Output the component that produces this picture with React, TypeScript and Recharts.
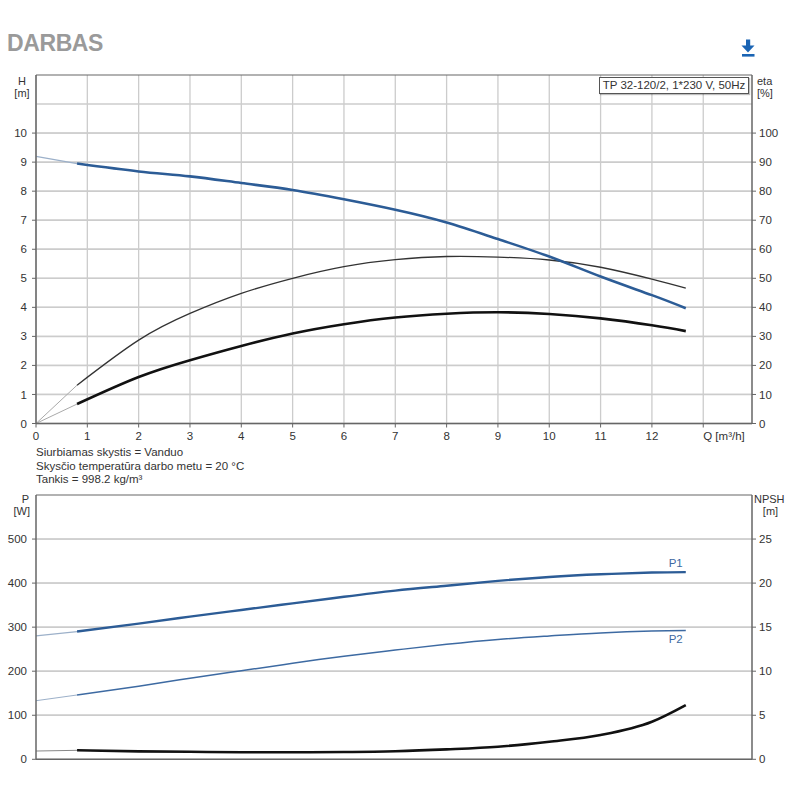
import React from 'react';
import { LineChart, Line, XAxis, YAxis, CartesianGrid, ReferenceLine, LabelList } from 'recharts';

// Flow values (m³/h) for the main operating range
const flowQ = [0.8, 2, 3, 4, 5, 6, 7, 8, 9, 10, 11, 12, 12.66];
// Head H [m]
const headH = [8.95, 8.68, 8.51, 8.28, 8.04, 7.72, 7.36, 6.92, 6.35, 5.75, 5.06, 4.42, 3.97];
// Efficiency curves [%]
const etaUpper = [13.2, 28.7, 37.9, 44.8, 50.0, 54.0, 56.4, 57.5, 57.3, 56.3, 53.8, 49.7, 46.6];
const etaLower = [6.7, 16.0, 21.8, 26.7, 31.0, 34.2, 36.5, 37.8, 38.3, 37.7, 36.2, 33.8, 31.8];
// Power P1 / P2 [W]
const powerP1 = [290, 308, 324, 339, 354, 369, 383, 394, 405, 414, 420, 424, 425];
const powerP2 = [146, 166, 184, 201, 218, 234, 248, 261, 272, 280, 287, 291.5, 292.5];
// NPSH [m]
const npsh = [1.02, 0.9, 0.85, 0.8, 0.8, 0.83, 0.92, 1.13, 1.43, 2.0, 2.76, 4.27, 6.16];

// Extensions from Q = 0 to the start of the operating range
const extQ = [0, 0.8];
const headExt = [9.2, 8.95];
const etaUpperExt = [0, 13.2];
const etaLowerExt = [0, 6.7];
const p1Ext = [280, 290];
const p2Ext = [133, 146];
const npshExt = [0.94, 1.02];

// Tick labels / grid values
const qTicks = [0, 1, 2, 3, 4, 5, 6, 7, 8, 9, 10, 11, 12, 13];
const hTicks = [0, 1, 2, 3, 4, 5, 6, 7, 8, 9, 10];
const hGrid = [1, 2, 3, 4, 5, 6, 7, 8, 9, 10, 11];
const etaTicks = [0, 10, 20, 30, 40, 50, 60, 70, 80, 90, 100];
const pTicks = [0, 100, 200, 300, 400, 500];
const pGrid = [100, 200, 300, 400, 500];
const npshTicks = [0, 5, 10, 15, 20, 25];

const toPts = (xs: number[], ys: number[]) => xs.map((q, i) => ({ q, v: ys[i] }));

const FONT = '"Liberation Sans", Arial, sans-serif';
const AXIS = '#666';
const GRID = '#d6d6d6';
const HGRID = '#cccccc';
const TXT = '#333';
const BLUE = '#2c5c96';
const BLUE2 = '#3d6aa2';

const XTick = (props: any) => {
  const { x, y, payload } = props;
  if (payload.value === 13) {
    return (
      <text x={x} y={y} dy="0.71em" textAnchor="start" fontSize={11.5} fontFamily={FONT} fill={TXT}>
        Q [m³/h]
      </text>
    );
  }
  return (
    <text x={x} y={y} dy="0.71em" textAnchor="middle" fontSize={11.5} fontFamily={FONT} fill={TXT}>
      {payload.value}
    </text>
  );
};

const tickStyle = { fill: TXT, fontSize: 11.5, fontFamily: FONT };

const endLabel = (text: string, lastIndex: number, above: boolean) => (p: any) => {
  if (p.index !== lastIndex) return null;
  return (
    <text x={p.x - 3} y={above ? p.y - 5 : p.y + 13} textAnchor="end" fontSize={11.5} fontFamily={FONT} fill={BLUE2}>
      {text}
    </text>
  );
};

const abs = (left: number, top: number, extra: any = {}): React.CSSProperties => ({
  position: 'absolute',
  left,
  top,
  fontFamily: FONT,
  fontSize: 11.5,
  color: TXT,
  lineHeight: '12px',
  whiteSpace: 'nowrap',
  ...extra,
});

export default function App() {
  const last = flowQ.length - 1;
  return (
    <div style={{ position: 'absolute', left: 0, top: 0, width: 800, height: 800, background: '#fff', overflow: 'hidden' }}>
      <div style={abs(7, 30, { fontSize: 23, fontWeight: 'bold', color: '#9a9a9a', lineHeight: '26px', letterSpacing: '-0.4px' })}>
        DARBAS
      </div>
      <svg style={{ position: 'absolute', left: 740, top: 38 }} width={16} height={20}>
        <rect x={6} y={1.5} width={4.2} height={7} fill="#1a64b4" />
        <polygon points="1.5,7.5 14.5,7.5 8,14.5" fill="#1a64b4" />
        <rect x={2} y={16} width={12.5} height={2.6} fill="#1a64b4" />
      </svg>

      {/* Top chart: H (default y axis) and eta */}
      <div style={{ position: 'absolute', left: 0, top: 0 }}>
        <LineChart width={800} height={460} margin={{ top: 75, right: 0, left: 0, bottom: 6.5 }}>
          <CartesianGrid syncWithTicks stroke={HGRID} strokeWidth={1.3} />
          <XAxis type="number" dataKey="q" domain={[0, 13.95]} ticks={qTicks} interval={0} height={30}
            axisLine={{ stroke: AXIS, strokeWidth: 1.5 }} tickLine={{ stroke: AXIS }} tickSize={4} tickMargin={4} tick={<XTick />} />
          <YAxis type="number" domain={[0, 12]} ticks={hTicks} interval={0} width={36}
            axisLine={{ stroke: AXIS, strokeWidth: 1.5 }} tickLine={{ stroke: AXIS }} tickSize={4} tickMargin={5} tick={tickStyle} />
          <YAxis yAxisId="eta" orientation="right" type="number" domain={[0, 120]} ticks={etaTicks} interval={0} width={48}
            axisLine={{ stroke: AXIS, strokeWidth: 1.5 }} tickLine={{ stroke: AXIS }} tickSize={4} tickMargin={3} tick={{ ...tickStyle, textAnchor: 'start' }} />
          {hGrid.map((v) => (
            <ReferenceLine key={'hg' + v} y={v} stroke={HGRID} strokeWidth={1.5} />
          ))}
          <ReferenceLine y={12} stroke={AXIS} strokeWidth={1.2} />
          <Line data={toPts(extQ, headExt)} dataKey="v" type="linear" stroke="#9cb0c9" strokeWidth={1.2} dot={false} isAnimationActive={false} />
          <Line yAxisId="eta" data={toPts(extQ, etaUpperExt)} dataKey="v" type="linear" stroke="#aaa" strokeWidth={1} dot={false} isAnimationActive={false} />
          <Line yAxisId="eta" data={toPts(extQ, etaLowerExt)} dataKey="v" type="linear" stroke="#aaa" strokeWidth={1} dot={false} isAnimationActive={false} />
          <Line yAxisId="eta" data={toPts(flowQ, etaUpper)} dataKey="v" type="natural" stroke="#333" strokeWidth={1.3} dot={false} isAnimationActive={false} />
          <Line yAxisId="eta" data={toPts(flowQ, etaLower)} dataKey="v" type="natural" stroke="#111" strokeWidth={2.6} dot={false} isAnimationActive={false} />
          <Line data={toPts(flowQ, headH)} dataKey="v" type="natural" stroke={BLUE} strokeWidth={2.6} dot={false} isAnimationActive={false} />
        </LineChart>
      </div>

      {/* Bottom chart: P (default y axis) and NPSH */}
      <div style={{ position: 'absolute', left: 0, top: 460 }}>
        <LineChart width={800} height={340} margin={{ top: 35, right: 0, left: 0, bottom: 30.7 }}>
          <CartesianGrid syncWithTicks stroke={HGRID} strokeWidth={1.3} />
          <XAxis type="number" dataKey="q" domain={[0, 13.95]} ticks={qTicks} interval={0} height={10}
            axisLine={{ stroke: AXIS, strokeWidth: 1.5 }} tickLine={false} tick={false} />
          <YAxis type="number" domain={[0, 600]} ticks={pTicks} interval={0} width={36}
            axisLine={{ stroke: AXIS, strokeWidth: 1.5 }} tickLine={{ stroke: AXIS }} tickSize={4} tickMargin={5} tick={tickStyle} />
          <YAxis yAxisId="n" orientation="right" type="number" domain={[0, 30]} ticks={npshTicks} interval={0} width={48}
            axisLine={{ stroke: AXIS, strokeWidth: 1.5 }} tickLine={{ stroke: AXIS }} tickSize={4} tickMargin={3} tick={{ ...tickStyle, textAnchor: 'start' }} />
          {pGrid.map((v) => (
            <ReferenceLine key={'pg' + v} y={v} stroke={HGRID} strokeWidth={1.5} />
          ))}
          <ReferenceLine y={600} stroke={AXIS} strokeWidth={1.2} />
          <Line data={toPts(extQ, p1Ext)} dataKey="v" type="linear" stroke="#9cb0c9" strokeWidth={1.2} dot={false} isAnimationActive={false} />
          <Line data={toPts(extQ, p2Ext)} dataKey="v" type="linear" stroke="#9cb0c9" strokeWidth={1} dot={false} isAnimationActive={false} />
          <Line yAxisId="n" data={toPts(extQ, npshExt)} dataKey="v" type="linear" stroke="#888" strokeWidth={1} dot={false} isAnimationActive={false} />
          <Line data={toPts(flowQ, powerP1)} dataKey="v" type="natural" stroke={BLUE} strokeWidth={2.4} dot={false} isAnimationActive={false}>
            <LabelList dataKey="v" content={endLabel('P1', last, true)} />
          </Line>
          <Line data={toPts(flowQ, powerP2)} dataKey="v" type="natural" stroke={BLUE2} strokeWidth={1.5} dot={false} isAnimationActive={false}>
            <LabelList dataKey="v" content={endLabel('P2', last, false)} />
          </Line>
          <Line yAxisId="n" data={toPts(flowQ, npsh)} dataKey="v" type="monotone" stroke="#111" strokeWidth={2.6} dot={false} isAnimationActive={false} />
        </LineChart>
      </div>

      {/* Axis unit labels */}
      <div style={abs(0, 75, { width: 44, textAlign: 'center', fontSize: 11 })}>H</div>
      <div style={abs(0, 87, { width: 44, textAlign: 'center', fontSize: 11 })}>[m]</div>
      <div style={abs(757, 75, { fontSize: 11 })}>eta</div>
      <div style={abs(757, 87, { fontSize: 11 })}>[%]</div>
      <div style={abs(0, 493, { width: 29, textAlign: 'right', fontSize: 11 })}>P</div>
      <div style={abs(0, 505, { width: 30, textAlign: 'right', fontSize: 11 })}>[W]</div>
      <div style={abs(754, 493, { fontSize: 11 })}>NPSH</div>
      <div style={abs(754, 505, { width: 33, textAlign: 'center', fontSize: 11 })}>[m]</div>

      {/* Legend box */}
      <div style={abs(599, 77, { width: 148, height: 15, border: '1px solid #555', background: '#fff', boxShadow: '1px 1px 1px rgba(0,0,0,0.25)', lineHeight: '15px', textAlign: 'center' })}>
        TP 32-120/2, 1*230 V, 50Hz
      </div>

      {/* Fluid info */}
      <div style={abs(36, 446, { lineHeight: '13.6px' })}>
        <div>Siurbiamas skystis = Vanduo</div>
        <div>Skysčio temperatūra darbo metu = 20 °C</div>
        <div>Tankis = 998.2 kg/m³</div>
      </div>
    </div>
  );
}
